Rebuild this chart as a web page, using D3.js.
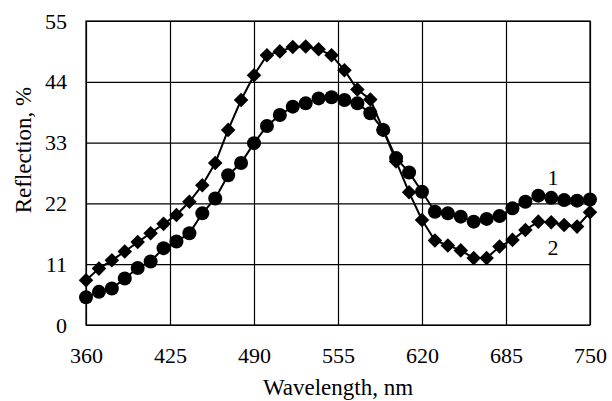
<!DOCTYPE html>
<html>
<head>
<meta charset="utf-8">
<script src="https://cdn.jsdelivr.net/npm/d3@7"></script>
<style>
  body { margin: 0; background: #fff; }
  text { font-family: "Liberation Serif", "Times New Roman", serif; fill: #000; }
</style>
</head>
<body>
<div id="chart"></div>
<script>
// wavelength, nm (every 10 nm)
const wavelengths = d3.range(360, 751, 10);
// curve 1 (circles)
const curve1 = [5.0, 6.0, 6.6, 8.4, 10.3, 11.5, 13.9, 15.1, 16.6, 20.2,
                22.9, 27.1, 29.3, 32.9, 36.0, 38.0, 39.5, 40.1, 41.0, 41.2,
                40.7, 40.1, 38.3, 35.3, 30.2, 27.6, 24.1, 20.5, 20.2, 19.6,
                18.7, 19.2, 19.7, 21.1, 22.3, 23.4, 23.0, 22.6, 22.5, 22.7];
// curve 2 (diamonds)
const curve2 = [8.1, 10.2, 11.7, 13.3, 15.0, 16.6, 18.3, 19.9, 22.3, 25.3,
                29.3, 35.3, 40.7, 45.2, 48.8, 49.5, 50.3, 50.4, 49.9, 48.8,
                46.1, 42.6, 40.8, 35.3, 29.6, 24.0, 19.0, 15.3, 14.4, 13.5,
                12.1, 12.1, 14.2, 15.4, 17.2, 18.7, 18.6, 18.1, 17.8, 20.4];
const xTicks = [360, 425, 490, 555, 620, 685, 750];
const yTicks = [0, 11, 22, 33, 44, 55];

const width = 612, height = 401;
const margin = {top: 21, right: 22, bottom: 76, left: 86};
const w = width - margin.left - margin.right,
      h = height - margin.top - margin.bottom;

const svg = d3.select("#chart").append("svg")
    .attr("width", width)
    .attr("height", height);

const g = svg.append("g")
    .attr("transform", "translate(" + margin.left + "," + margin.top + ")");

const x = d3.scaleLinear().domain([360, 750]).range([0, w]);
const y = d3.scaleLinear().domain([0, 55]).range([h, 0]);

// grid
g.append("g")
    .call(d3.axisBottom(x).tickValues(xTicks).tickSize(h).tickFormat(""))
    .call(a => a.select(".domain").remove())
    .selectAll("line").attr("stroke", "#000").attr("stroke-width", 1.2);

g.append("g")
    .call(d3.axisLeft(y).tickValues(yTicks).tickSize(-w).tickFormat(""))
    .call(a => a.select(".domain").remove())
    .selectAll("line").attr("stroke", "#000").attr("stroke-width", 1.2);

g.append("rect")
    .attr("width", w).attr("height", h)
    .attr("fill", "none").attr("stroke", "#000").attr("stroke-width", 1.2);

// tick labels
g.append("g")
    .attr("transform", "translate(0," + h + ")")
    .call(d3.axisBottom(x).tickValues(xTicks).tickSize(0).tickPadding(22))
    .call(a => a.select(".domain").remove())
    .selectAll("text")
    .style("font-size", "22px")
    .style("font-family", "Liberation Serif");

g.append("g")
    .call(d3.axisLeft(y).tickValues(yTicks).tickSize(0).tickPadding(19))
    .call(a => a.select(".domain").remove())
    .selectAll("text")
    .style("font-size", "22px")
    .style("font-family", "Liberation Serif");

// axis titles
svg.append("text")
    .attr("x", 338)
    .attr("y", 395)
    .attr("text-anchor", "middle")
    .style("font-size", "23px")
    .text("Wavelength, nm");

svg.append("text")
    .attr("transform", "translate(31,150) rotate(-90)")
    .attr("text-anchor", "middle")
    .style("font-size", "23px")
    .text("Reflection, %");

const line = d3.line()
    .x(d => x(d[0]))
    .y(d => y(d[1]));

const data1 = wavelengths.map((wl, i) => [wl, curve1[i]]);
const data2 = wavelengths.map((wl, i) => [wl, curve2[i]]);

g.append("path").datum(data2)
    .attr("d", line).attr("fill", "none")
    .attr("stroke", "#000").attr("stroke-width", 2);

g.append("path").datum(data1)
    .attr("d", line).attr("fill", "none")
    .attr("stroke", "#000").attr("stroke-width", 2);

g.selectAll(".dia").data(data2).enter().append("path")
    .attr("class", "dia")
    .attr("d", d3.symbol().type(d3.symbolDiamond2).size(135))
    .attr("transform", d => "translate(" + x(d[0]) + "," + y(d[1]) + ")")
    .attr("fill", "#000");

g.selectAll(".dot").data(data1).enter().append("circle")
    .attr("class", "dot")
    .attr("cx", d => x(d[0]))
    .attr("cy", d => y(d[1]))
    .attr("r", 7)
    .attr("fill", "#000");

// curve labels
svg.append("text").attr("x", 553).attr("y", 185)
    .attr("text-anchor", "middle").style("font-size", "22px").text("1");
svg.append("text").attr("x", 553).attr("y", 255)
    .attr("text-anchor", "middle").style("font-size", "22px").text("2");
</script>
</body>
</html>
